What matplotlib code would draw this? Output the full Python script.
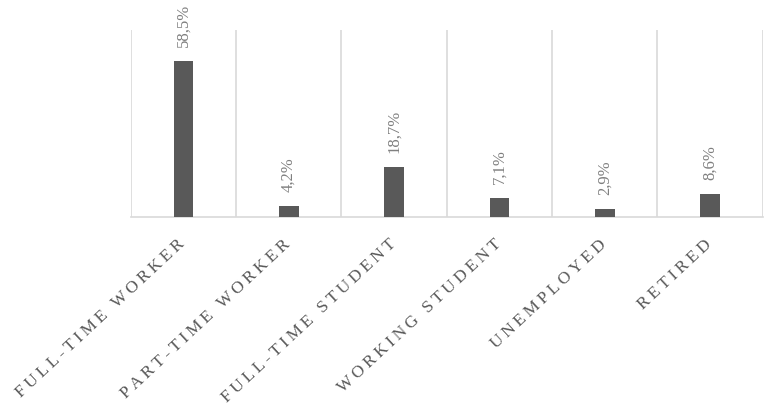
import matplotlib
matplotlib.use("Agg")
import matplotlib.pyplot as plt
from matplotlib.transforms import ScaledTranslation

categories = ["FULL-TIME WORKER", "PART-TIME WORKER", "FULL-TIME STUDENT",
              "WORKING STUDENT", "UNEMPLOYED", "RETIRED"]
values = [58.5, 4.2, 18.7, 7.1, 2.9, 8.6]

SERIF = ["Liberation Serif", "DejaVu Serif"]
TEXT_GRAY = "#595959"
LABEL_GRAY = "#7f7f7f"
GRID_GRAY = "#d9d9d9"
BAR_GRAY = "#595959"


def spaced(text, gap="\u2009"):
    """Letter-spaced caps, like tracked small-caps labels."""
    return gap.join(text)


fig = plt.figure(figsize=(7.69, 4.13), dpi=100)
ax = fig.add_axes([0.170, 0.4746, 0.822, 0.4528])

x = list(range(len(categories)))
ax.bar(x, values, width=0.185, color=BAR_GRAY, zorder=3)

ax.set_xlim(-0.5, len(categories) - 0.5)
ax.set_ylim(0, 70)

# vertical separators between categories
for b in range(len(categories) + 1):
    ax.axvline(b - 0.5, color=GRID_GRAY, lw=1.2, zorder=1)

for s in ("top", "right", "left"):
    ax.spines[s].set_visible(False)
ax.spines["bottom"].set_color(GRID_GRAY)
ax.spines["bottom"].set_linewidth(1.2)
ax.set_yticks([])

ax.set_xticks(x)
labels = ax.set_xticklabels([spaced(c) for c in categories], rotation=43,
                            ha="right", rotation_mode="anchor", family=SERIF,
                            fontsize=12.5, color=TEXT_GRAY)
ax.tick_params(axis="x", length=0, pad=14)
shift = ScaledTranslation(-0.06, 0, fig.dpi_scale_trans)
for lab in labels:
    lab.set_transform(lab.get_transform() + shift)

for xi, v in zip(x, values):
    ax.annotate(f"{v:.1f}%".replace(".", ","), (xi, v), xytext=(0, 10),
                textcoords="offset points", rotation=90, ha="center",
                va="bottom", family=SERIF, fontsize=12, color=LABEL_GRAY)

fig.savefig("out.png", dpi=100)
